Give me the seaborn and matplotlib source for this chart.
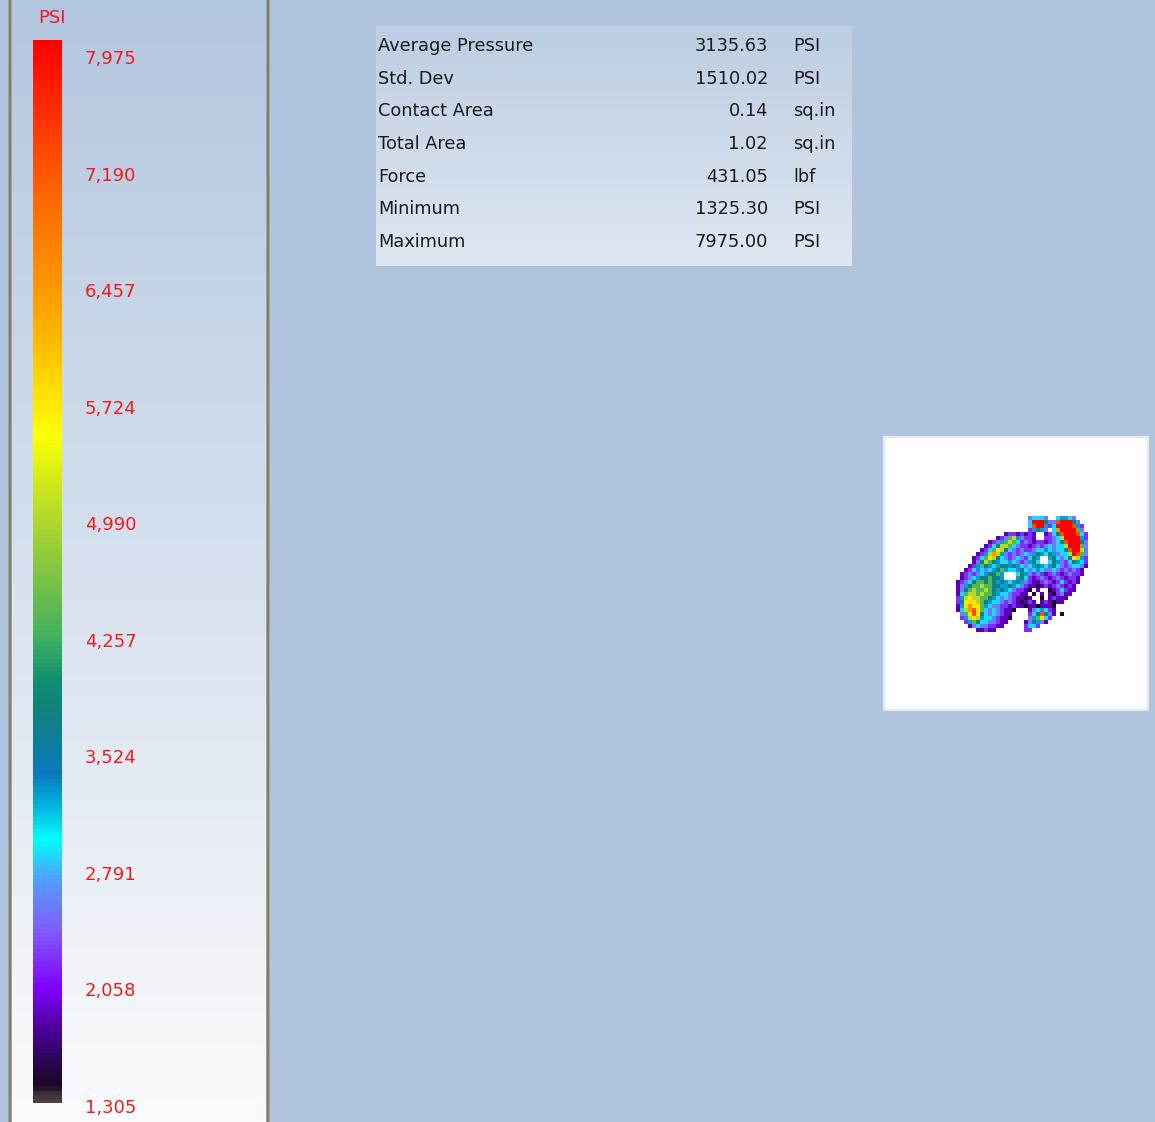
import numpy as np
import pandas as pd
import matplotlib
matplotlib.use("Agg")
import matplotlib.pyplot as plt
from matplotlib.colors import LinearSegmentedColormap
from matplotlib.patches import Rectangle
import seaborn as sns

W, H = 1155, 1122

# ---- pressure scale -------------------------------------------------------
scale_title = "PSI"
scale_ticks = [7975, 7190, 6457, 5724, 4990, 4257, 3524, 2791, 2058, 1305]
psi_min = 1305
psi_max = 7975

# ---- summary statistics ---------------------------------------------------
stat_names = ["Average Pressure", "Std. Dev", "Contact Area", "Total Area",
              "Force", "Minimum", "Maximum"]
stat_values = [3135.63, 1510.02, 0.14, 1.02, 431.05, 1325.30, 7975.00]
stat_units = ["PSI", "PSI", "sq.in", "sq.in", "lbf", "PSI", "PSI"]

# ---- sensor frame: one character per cell, '.' = no contact ---------------
level_codes = "0123456789abc"
level_psi = [1450, 1850, 2200, 2550, 2850, 3250, 3750, 4350, 5000, 5750,
             6450, 7200, 7950]

map_rows = [
    "...................................",
    "...................34443..45543....",
    "...................4ccc633bccc63...",
    "...................4bcc524ccccb52..",
    "...................25653.4acccc73..",
    ".............12212121..1246bcccb42.",
    "...........1237853221..22348cccc52.",
    ".........1235787423212212346bccc63.",
    "........124688743221232343448ccc73.",
    ".......1247986432322344543446bcc83.",
    "......1258a8532323435654653448cb73.",
    ".....12479864323432465..5643469852.",
    ".....13687654454323564..4653246542.",
    "....125765456656543456545643234431.",
    "...124543456754456434543343232321..",
    "..12323456675...46532321232123221..",
    "..12345667665...5642123212321221...",
    ".1234677676565456532112321242121...",
    ".135677877665565432110121232121....",
    ".1367877876565432210.1..0124211....",
    ".147887877654432211.0.1.102311.....",
    ".2589887765434321101..0.12111......",
    ".26999876544323210121.121011.......",
    ".159a997543322121101101110.........",
    ".148ab9743432110...1345421.........",
    "..379b964343211....246b631.0.......",
    "..2589854432110....357942..........",
    "...25764433211....136531...........",
    "....134332211.....2442.............",
    "......11211.......22...............",
]

n_cols = 35
bad = [i for i, r in enumerate(map_rows) if len(r) != n_cols]
if bad:
    raise ValueError(f"rows with wrong width: {bad}")

psi_grid = pd.DataFrame(
    [[np.nan if ch == "." else level_psi[level_codes.index(ch)] for ch in row]
     for row in map_rows]
)

# rainbow pressure colour map (low = dark violet, high = red)
psi_cmap = LinearSegmentedColormap.from_list("psi", [
    (0.000, "#4a4242"), (0.008, "#3a2c30"), (0.014, "#1a0826"),
    (0.040, "#2c0558"), (0.078, "#5a00b4"), (0.106, "#8000ff"),
    (0.163, "#8060ff"), (0.210, "#50a0ff"), (0.247, "#00ffff"),
    (0.276, "#00b8e0"), (0.309, "#0a78c0"), (0.365, "#108080"),
    (0.398, "#109070"), (0.436, "#40b060"), (0.511, "#8cc83c"),
    (0.577, "#c8e61e"), (0.630, "#ffff00"), (0.699, "#ffc800"),
    (0.755, "#ffa000"), (0.849, "#ff6a00"), (1.000, "#ff0000"),
])

red = "#f01c1c"
bg = "#b0c4de"

sns.set_style("white")
plt.rcParams["font.family"] = ["DejaVu Sans"]

fig = plt.figure(figsize=(W / 100, H / 100), dpi=100, facecolor=bg)


def px_axes(x0, y0, x1, y1, **kw):
    return fig.add_axes([x0 / W, 1 - y1 / H, (x1 - x0) / W, (y1 - y0) / H], **kw)


def gradient(ax, top, bottom, xmax=1.0, ymax=1.0):
    g = np.linspace(0, 1, 256).reshape(-1, 1)
    ax.imshow(g, aspect="auto", extent=(0, xmax, ymax, 0),
              cmap=LinearSegmentedColormap.from_list("g", [top, bottom]))
    ax.set_xlim(0, xmax)
    ax.set_ylim(ymax, 0)
    ax.axis("off")


# left legend panel
panel_ax = px_axes(11, 0, 267, H)
gradient(panel_ax, "#b3c6df", "#fafbfd")
for x0 in (8, 266):
    fig.add_artist(Rectangle((x0 / W, 0), 4 / W, 1, transform=fig.transFigure,
                             facecolor="#a4a394", edgecolor="none"))
    fig.add_artist(Rectangle(((x0 + 1.3) / W, 0), 1.6 / W, 1,
                             transform=fig.transFigure,
                             facecolor="#7f7e70", edgecolor="none"))

# statistics box
stat_ax = px_axes(376, 26, 852, 266)
gradient(stat_ax, "#bdcde2", "#dfe7f1", xmax=476, ymax=240)
row_step = (216 - 20) / (len(stat_names) - 1)
for i, (name, val, unit) in enumerate(zip(stat_names, stat_values, stat_units)):
    y = 20 + i * row_step
    stat_ax.text(2, y, name, ha="left", va="center", fontsize=12.8, color="#1a1a1a")
    stat_ax.text(392, y, f"{val:.2f}", ha="right", va="center", fontsize=12.8,
                 color="#1a1a1a")
    stat_ax.text(417, y, unit, ha="left", va="center", fontsize=12.8, color="#1a1a1a")

# white frame holding the pressure map
box_ax = px_axes(884, 437, 1148, 710)
box_ax.set_facecolor("white")
box_ax.set_xticks([])
box_ax.set_yticks([])
for s in box_ax.spines.values():
    s.set_edgecolor("#e4eaf2")
    s.set_linewidth(1.5)

# pressure map + colour bar
cax = px_axes(33, 40, 62, 1103)
map_ax = px_axes(952, 512, 1092, 632)
sns.heatmap(psi_grid, ax=map_ax, cmap=psi_cmap, vmin=psi_min, vmax=psi_max,
            cbar=True, cbar_ax=cax, xticklabels=False, yticklabels=False)
map_ax.set_facecolor("white")
map_ax.axis("off")
cbar = map_ax.collections[0].colorbar
cbar.set_ticks([])
cbar.outline.set_visible(False)

# scale labels
lab_ax = px_axes(85, 59, 200, 1108)
lab_ax.set_xlim(0, 1)
lab_ax.set_ylim(len(scale_ticks) - 1, 0)
lab_ax.axis("off")
for i, v in enumerate(scale_ticks):
    lab_ax.text(0, i, f"{v:,}", ha="left", va="center", fontsize=13, color=red)

fig.text(52 / W, 1 - 18 / H, scale_title, ha="center", va="center",
         fontsize=13, color=red)

fig.savefig("out.png", dpi=100, facecolor=bg)
